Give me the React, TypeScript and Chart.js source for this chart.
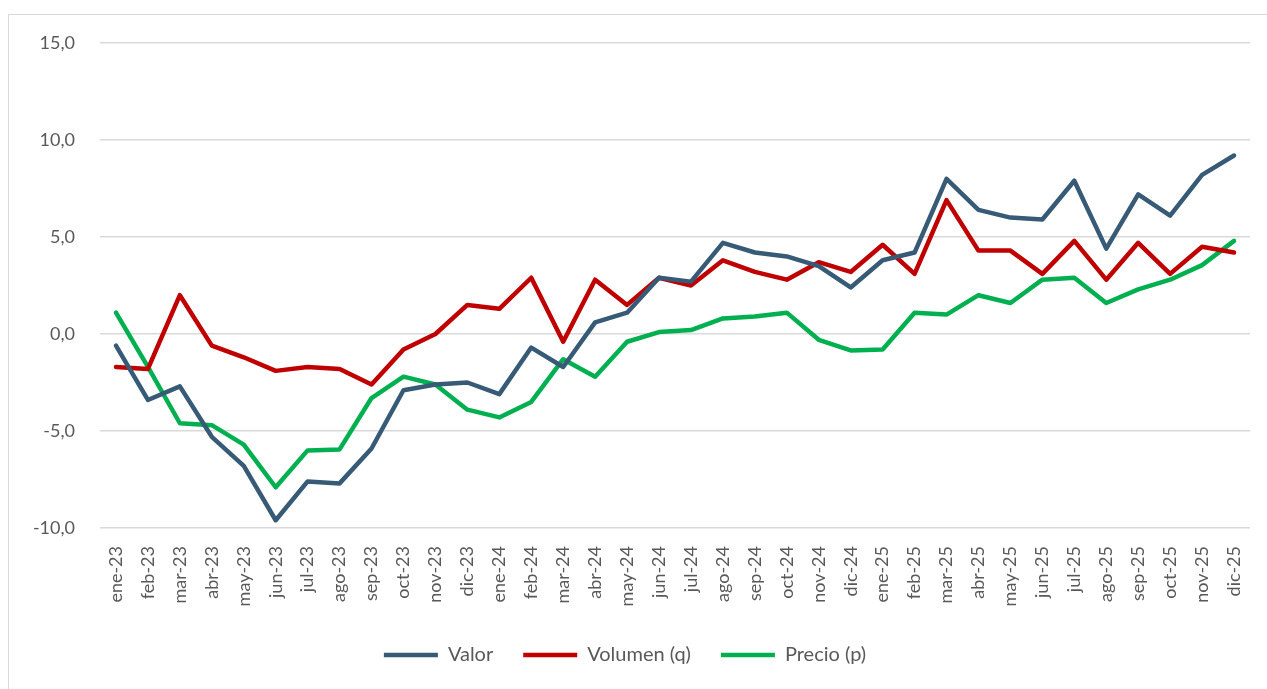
import React, { useEffect, useRef } from "react";
import { Chart, registerables } from "chart.js";

Chart.register(...registerables);

const categories = [
  "ene-23", "feb-23", "mar-23", "abr-23", "may-23", "jun-23", "jul-23", "ago-23", "sep-23", "oct-23", "nov-23", "dic-23",
  "ene-24", "feb-24", "mar-24", "abr-24", "may-24", "jun-24", "jul-24", "ago-24", "sep-24", "oct-24", "nov-24", "dic-24",
  "ene-25", "feb-25", "mar-25", "abr-25", "may-25", "jun-25", "jul-25", "ago-25", "sep-25", "oct-25", "nov-25", "dic-25",
];

const valor = [
  -0.6, -3.4, -2.7, -5.3, -6.8, -9.6, -7.6, -7.7, -5.9, -2.9, -2.6, -2.5,
  -3.1, -0.7, -1.7, 0.6, 1.1, 2.9, 2.7, 4.7, 4.2, 4.0, 3.5, 2.4,
  3.8, 4.2, 8.0, 6.4, 6.0, 5.9, 7.9, 4.4, 7.2, 6.1, 8.2, 9.2,
];

const volumen = [
  -1.7, -1.8, 2.0, -0.6, -1.2, -1.9, -1.7, -1.8, -2.6, -0.8, 0.0, 1.5,
  1.3, 2.9, -0.4, 2.8, 1.5, 2.9, 2.5, 3.8, 3.2, 2.8, 3.7, 3.2,
  4.6, 3.1, 6.9, 4.3, 4.3, 3.1, 4.8, 2.8, 4.7, 3.1, 4.5, 4.2,
];

const precio = [
  1.1, -1.7, -4.6, -4.7, -5.7, -7.9, -6.0, -5.95, -3.3, -2.2, -2.6, -3.9,
  -4.3, -3.5, -1.3, -2.2, -0.4, 0.1, 0.2, 0.8, 0.9, 1.1, -0.3, -0.85,
  -0.8, 1.1, 1.0, 2.0, 1.6, 2.8, 2.9, 1.6, 2.3, 2.8, 3.55, 4.8,
];

const seriesNames = ["Valor", "Volumen (q)", "Precio (p)"];
const seriesColors = ["#375A76", "#C00000", "#00B050"];

const yMin = -10;
const yMax = 15;
const yStep = 5;

export default function App() {
  const canvasRef = useRef<HTMLCanvasElement | null>(null);

  useEffect(() => {
    if (!canvasRef.current) return;
    const font = "Lato, 'Liberation Sans', sans-serif";
    const dataSets = [valor, volumen, precio];
    const chart = new Chart(canvasRef.current, {
      type: "line",
      data: {
        labels: categories,
        datasets: dataSets.map((d, i) => ({
          label: seriesNames[i],
          data: d,
          borderColor: seriesColors[i],
          backgroundColor: seriesColors[i],
          borderWidth: 4.5,
          pointRadius: 0,
          pointHoverRadius: 0,
          tension: 0,
          fill: false,
          borderCapStyle: "round" as const,
          borderJoinStyle: "round" as const,
          pointStyle: "line" as const,
        })),
      },
      options: {
        animation: false,
        responsive: false,
        maintainAspectRatio: false,
        layout: { padding: { left: 0, right: 17, top: 43, bottom: 14 } },
        plugins: {
          legend: {
            position: "bottom",
            labels: {
              usePointStyle: true,
              pointStyleWidth: 54,
              color: "#595959",
              font: { family: font, size: 20 },
              padding: 30,
            },
          },
          tooltip: { enabled: false },
        },
        scales: {
          x: {
            offset: true,
            grid: { display: false },
            border: { display: false },
            ticks: {
              color: "#595959",
              font: { family: font, size: 18 },
              minRotation: 90,
              maxRotation: 90,
              autoSkip: false,
              padding: 10,
            },
            afterFit: (scale: any) => {
              scale.height = 87;
            },
          },
          y: {
            min: yMin,
            max: yMax,
            ticks: {
              stepSize: yStep,
              color: "#595959",
              font: { family: font, size: 18 },
              padding: 25,
              callback: (v: any) => Number(v).toFixed(1).replace(".", ","),
            },
            grid: { color: "#D9D9D9", lineWidth: 1.5, drawTicks: false },
            border: { display: false },
            afterFit: (scale: any) => {
              scale.width = 100;
            },
          },
        },
      },
    });
    return () => chart.destroy();
  }, []);

  return (
    <div style={{ position: "fixed", left: 0, top: 0, width: 1267, height: 689, overflow: "hidden", background: "#fff" }}>
      <div style={{ position: "absolute", left: 8, top: 14, width: 1300, height: 700, border: "1px solid #D9D9D9", boxSizing: "border-box" }} />
      <canvas ref={canvasRef} width={1267} height={689} style={{ position: "absolute", left: 0, top: 0, width: 1267, height: 689 }} />
    </div>
  );
}
